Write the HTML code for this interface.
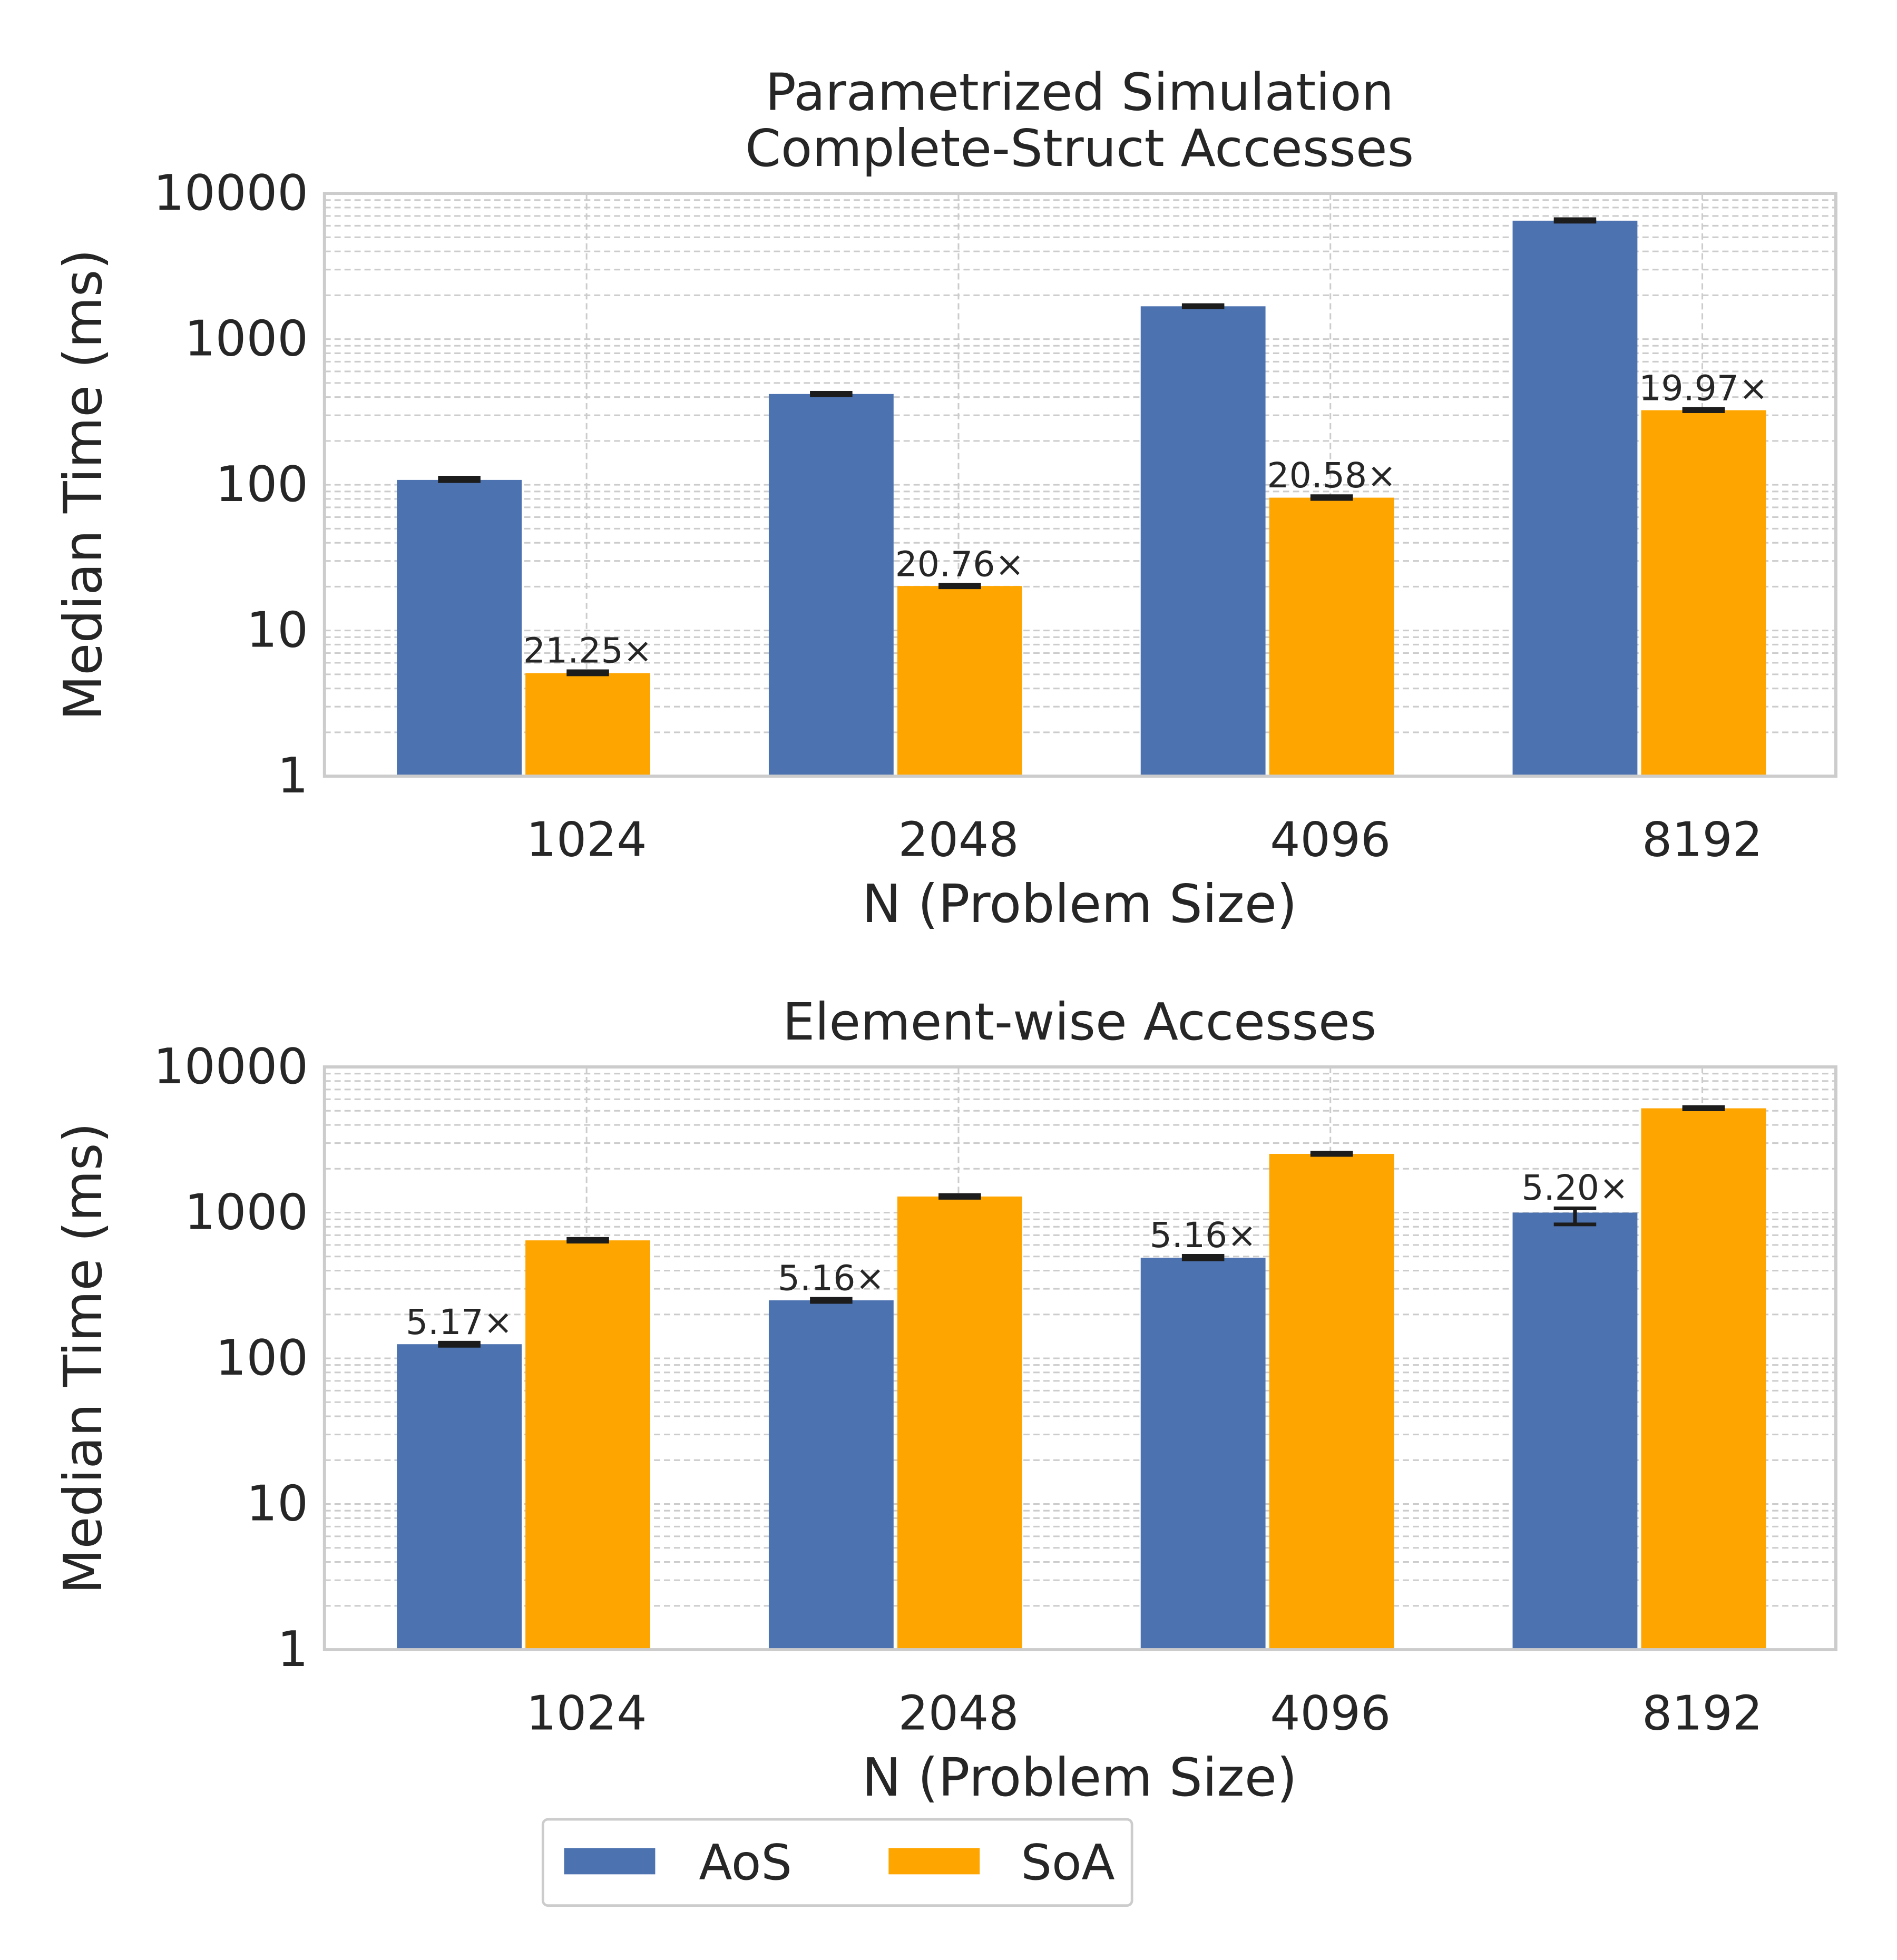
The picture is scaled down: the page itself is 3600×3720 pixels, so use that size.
<!DOCTYPE html>
<html><head><meta charset="utf-8"><style>
html,body{margin:0;padding:0;background:#fff;}
svg{display:block;font-family:"DejaVu Sans","Liberation Sans",sans-serif;}
</style></head><body>
<svg id="chart" width="3600" height="3720" viewBox="0 0 1520 1570.67" preserveAspectRatio="none" xmlns="http://www.w3.org/2000/svg"></svg>
<script>
const categories = ["1024","2048","4096","8192"];
const aosTop = [108, 420, 1680, 6500];
const soaTop = [5.1, 20.2, 81.6, 325];
const aosTopErr = [[106,112],[412,428],[1650,1710],[6400,6650]];
const soaTopErr = [[5.0,5.25],[19.8,20.6],[80,83.5],[320,332]];
const labelsTop = ["21.25×","20.76×","20.58×","19.97×"];
const aosBot = [125, 250, 490, 1000];
const soaBot = [645, 1290, 2530, 5200];
const aosBotErr = [[122,128],[244,256],[478,505],[830,1070]];
const soaBotErr = [[632,660],[1265,1320],[2490,2580],[5120,5300]];
const labelsBot = ["5.17×","5.16×","5.16×","5.20×"];
const yTicks = [1,10,100,1000,10000];

const NS="http://www.w3.org/2000/svg";
const svg=document.getElementById('chart');
function mk(tag,attrs,parent){const e=document.createElementNS(NS,tag);for(const k in attrs)e.setAttribute(k,attrs[k]);(parent||svg).appendChild(e);return e;}
const L=260,R=1471;
const groupStart=419, groupStep=298, barW=100;
function xGroup(i){return groupStart+i*groupStep;}

function panel(top,bottom,titleLines,aos,soa,aosE,soaE,labels,labelOnSoa,pname){
  const g=mk('g',{});
  
  
  const y=v=>bottom-(Math.log10(v))*(bottom-top)/4;
  for(let d=0;d<4;d++){for(let m=1;m<10;m++){const v=m*Math.pow(10,d);if(v===1)continue;
    const ln=mk('line',{x1:L,x2:R,y1:y(v),y2:y(v),stroke:'#cccccc','stroke-width':1.3,'stroke-dasharray':'5,3'},g);
    
    }}
  categories.forEach((c,i)=>{const vx=xGroup(i)+barW/2+1;
    const ln=mk('line',{x1:vx,x2:vx,y1:top,y2:bottom,stroke:'#cccccc','stroke-width':1.3,'stroke-dasharray':'5,3'},g);
    
    });
  categories.forEach((c,i)=>{
    const x0=xGroup(i);
    [[aos,aosE,'#4c72b0',x0-barW-1,'aos'],[soa,soaE,'#ffa500',x0+2,'soa']].forEach(([vals,errs,col,bx,nm])=>{
      const b=mk('rect',{x:bx,y:y(vals[i]),width:barW,height:bottom-y(vals[i]),fill:col},g);
      
      
      const cx=bx+barW/2;
      const e=mk('g',{stroke:'#1c1c1c','stroke-width':3},g);
      
      
      mk('line',{x1:cx,x2:cx,y1:y(errs[i][0]),y2:y(errs[i][1])},e);
      mk('line',{x1:cx-17,x2:cx+17,y1:y(errs[i][0]),y2:y(errs[i][0])},e);
      mk('line',{x1:cx-17,x2:cx+17,y1:y(errs[i][1]),y2:y(errs[i][1])},e);
    });
    const lx=labelOnSoa?x0+2+barW/2:x0-barW-1+barW/2;
    const ty=y((labelOnSoa?soaE:aosE)[i][1])-7;
    const t=mk('text',{x:lx,y:ty,'text-anchor':'middle','font-size':28,fill:'#262626'},g);
    t.textContent=labels[i];
    
    
  });
  const f=mk('rect',{x:L,y:top,width:R-L,height:bottom-top,fill:'none',stroke:'#cccccc','stroke-width':2.5},g);
  
  
  yTicks.forEach(v=>{const t=mk('text',{x:247,y:y(v)+13,'text-anchor':'end','font-size':39,fill:'#262626'},g);
    t.textContent=String(v);
    
    });
  categories.forEach((c,i)=>{const t=mk('text',{x:xGroup(i)+barW/2+1,y:bottom+64,'text-anchor':'middle','font-size':38,fill:'#262626'},g);
    t.textContent=c;
    
    });
  const xt=mk('text',{x:865,y:bottom+117,'text-anchor':'middle','font-size':42,fill:'#262626'},g);
  xt.textContent='N (Problem Size)';
  
  
  const yt=mk('text',{x:0,y:0,'text-anchor':'middle','font-size':42,fill:'#262626',transform:`translate(81,${(top+bottom)/2}) rotate(-90)`},g);
  yt.textContent='Median Time (ms)';
  
  
  titleLines.forEach((s,k)=>{const t=mk('text',{x:865,y:top-(titleLines.length-1-k)*45-22,'text-anchor':'middle','font-size':41,fill:'#262626'},g);
    t.textContent=s;
    
    });
}
panel(155,622,["Parametrized Simulation","Complete-Struct Accesses"],aosTop,soaTop,aosTopErr,soaTopErr,labelsTop,true,'top-panel');
panel(855,1322,["Element-wise Accesses"],aosBot,soaBot,aosBotErr,soaBotErr,labelsBot,false,'bottom-panel');

const lg=mk('g',{});


mk('rect',{x:435,y:1458,width:472,height:69,rx:4,fill:'#fff',stroke:'#cccccc','stroke-width':2},lg);
[['AoS','#4c72b0',452,560],['SoA','#ffa500',712,818]].forEach(([n,c,px,tx])=>{
  const e=mk('g',{},lg);
  
  
  mk('rect',{x:px,y:1481,width:73,height:21,fill:c},e);
  const t=mk('text',{x:tx,y:1506,'font-size':39,fill:'#262626'},e);
  t.textContent=n;
});
</script>
</body></html>
